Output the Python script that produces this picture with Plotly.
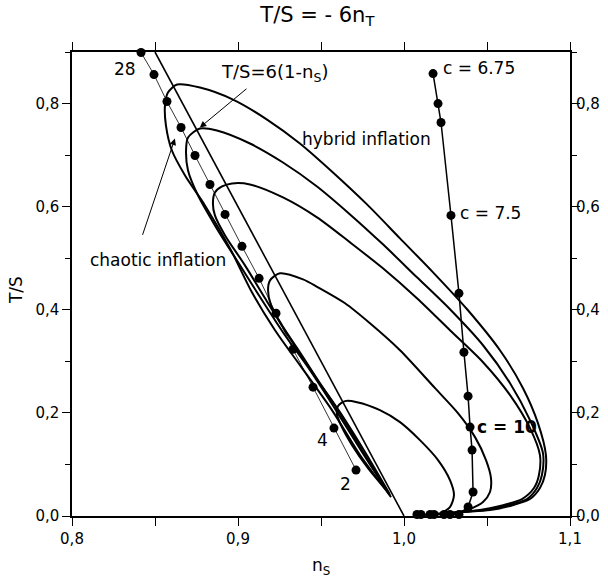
import plotly.graph_objects as go

# ---- data ----
line_ns = [0.85, 1.0]
line_ts = [0.90, 0.0]

chaotic_N = [28, 26, 24, 22, 20, 18, 16, 14, 12, 10, 8, 6, 4, 2]
chaotic_ns = [0.8416, 0.8494, 0.8572, 0.8657, 0.8741, 0.8831, 0.8922, 0.9024, 0.9127, 0.9229, 0.9331, 0.9452, 0.9578, 0.9711]
chaotic_ts = [0.8990, 0.8562, 0.8039, 0.7535, 0.6993, 0.6431, 0.5850, 0.5230, 0.4610, 0.3932, 0.3235, 0.2499, 0.1705, 0.0891]

c_ns = [1.0175, 1.0205, 1.0223, 1.0283, 1.0331, 1.0361, 1.0386, 1.0398, 1.0410, 1.0416, 1.0386,
        1.0331, 1.0277, 1.0241, 1.0181, 1.0157, 1.0102, 1.0078]
c_ts = [0.8581, 0.8000, 0.7632, 0.5830, 0.4319, 0.3177, 0.2324, 0.1724, 0.1278, 0.0465, 0.0174,
        0.003, 0.003, 0.003, 0.003, 0.003, 0.003, 0.003]

loopA_ns = [0.9922, 0.9735, 0.9566, 0.9373, 0.9223, 0.9084, 0.8952, 0.8801, 0.8681, 0.8602, 0.8566, 0.8560, 0.8578, 0.8633,
            0.8771, 0.8970, 0.9175, 0.9373, 0.9572, 0.9777, 0.9976, 1.0175, 1.0380, 1.0578, 1.0717, 1.0807, 1.0855,
            1.0849, 1.0819, 1.0759, 1.0639, 1.0518, 1.0355, 1.0217, 1.0078]
loopA_ts = [0.0368, 0.1182, 0.2053, 0.2925, 0.3603, 0.4339, 0.5191, 0.6024, 0.6605, 0.7089, 0.7574, 0.7961, 0.8213, 0.8368,
            0.8310, 0.8077, 0.7690, 0.7225, 0.6663, 0.6044, 0.5385, 0.4726, 0.4010, 0.3215, 0.2479, 0.1801, 0.1182,
            0.0794, 0.0542, 0.0329, 0.0194, 0.0116, 0.0077, 0.0039, 0.0019]

loopB_ns = [0.9910, 0.9747, 0.9590, 0.9434, 0.9283, 0.9145, 0.9012, 0.8861, 0.8759, 0.8699, 0.8687, 0.8699, 0.8771,
            0.8873, 0.9072, 0.9271, 0.9476, 0.9675, 0.9873, 1.0078, 1.0277, 1.0476, 1.0639, 1.0759, 1.0837,
            1.0831, 1.0801, 1.0741, 1.0608, 1.0488, 1.0337, 1.0169]
loopB_ts = [0.0426, 0.1240, 0.2053, 0.2828, 0.3506, 0.4184, 0.4862, 0.5637, 0.6218, 0.6702, 0.7089, 0.7341, 0.7515,
            0.7477, 0.7225, 0.6857, 0.6392, 0.5850, 0.5269, 0.4630, 0.4010, 0.3312, 0.2576, 0.1860, 0.1220,
            0.0794, 0.0542, 0.0329, 0.0194, 0.0116, 0.0077, 0.0039]

loopC_ns = [0.9916, 0.9753, 0.9602, 0.9446, 0.9301, 0.9163, 0.9042, 0.8922, 0.8861, 0.8849, 0.8861, 0.8904, 0.8964,
            0.9072, 0.9271, 0.9476, 0.9675, 0.9873, 1.0078, 1.0277, 1.0476, 1.0639, 1.0759, 1.0819,
            1.0813, 1.0783, 1.0711, 1.0578, 1.0458, 1.0337, 1.0253]
loopC_ts = [0.0407, 0.1240, 0.2053, 0.2789, 0.3506, 0.4223, 0.4862, 0.5443, 0.5831, 0.6063, 0.6276, 0.6392, 0.6450,
            0.6431, 0.6179, 0.5792, 0.5307, 0.4804, 0.4223, 0.3603, 0.2983, 0.2344, 0.1705, 0.1182,
            0.0794, 0.0542, 0.0329, 0.0194, 0.0116, 0.0077, 0.0039]

loopD_ns = [0.9910, 0.9765, 0.9614, 0.9494, 0.9373, 0.9265, 0.9199, 0.9181, 0.9193, 0.9253, 0.9392, 0.9482, 0.9645,
            0.9795, 0.9976, 1.0187, 1.0325, 1.0428, 1.0494, 1.0524, 1.0518, 1.0476, 1.0398, 1.0325]
loopD_ts = [0.0446, 0.1240, 0.2014, 0.2576, 0.3177, 0.3700, 0.4087, 0.4378, 0.4571, 0.4707, 0.4591, 0.4436, 0.4126,
            0.3738, 0.3215, 0.2479, 0.1995, 0.1530, 0.1085, 0.0736, 0.0465, 0.0271, 0.0136, 0.0077]

loopE_ns = [0.9904, 0.9783, 0.9687, 0.9620, 0.9596, 0.9602, 0.9645, 0.9717, 0.9855, 0.9976, 1.0096, 1.0205, 1.0277,
            1.0301, 1.0277, 1.0217]
loopE_ts = [0.0465, 0.0930, 0.1375, 0.1763, 0.1976, 0.2131, 0.2228, 0.2208, 0.2053, 0.1821, 0.1472, 0.1085, 0.0697,
            0.0407, 0.0174, 0.0039]

x_ticks = [0.8, 0.9, 1.0, 1.1]
x_ticktext = ["0,8", "0,9", "1,0", "1,1"]
y_ticks = [0.0, 0.2, 0.4, 0.6, 0.8]
y_ticktext = ["0,0", "0,2", "0,4", "0,6", "0,8"]

FONT = "DejaVu Sans"

fig = go.Figure()

for xs, ys in [(loopA_ns, loopA_ts), (loopB_ns, loopB_ts), (loopC_ns, loopC_ts),
               (loopD_ns, loopD_ts), (loopE_ns, loopE_ts)]:
    fig.add_trace(go.Scatter(x=xs, y=ys, mode="lines",
                             line=dict(color="black", width=2, shape="spline", smoothing=0.8),
                             hoverinfo="skip", showlegend=False))

fig.add_trace(go.Scatter(x=line_ns, y=line_ts, mode="lines", line=dict(color="black", width=1.6),
                         showlegend=False, hoverinfo="skip"))

fig.add_trace(go.Scatter(x=chaotic_ns, y=chaotic_ts, mode="lines+markers", text=chaotic_N,
                         line=dict(color="black", width=0.8),
                         marker=dict(color="black", size=9), cliponaxis=False, showlegend=False))

fig.add_trace(go.Scatter(x=c_ns, y=c_ts, mode="lines+markers",
                         line=dict(color="black", width=1.5),
                         marker=dict(color="black", size=9), cliponaxis=False, showlegend=False))

# invisible trace on the right axis
fig.add_trace(go.Scatter(x=[0.8], y=[0], yaxis="y2", mode="markers", marker=dict(opacity=0),
                         showlegend=False, hoverinfo="skip"))

AF = 17
ann = [
    dict(x=0.8319, y=0.8678, text="28", showarrow=False, font=dict(size=AF)),
    dict(x=0.9217, y=0.860, text="T/S=6(1-n<sub>S</sub>)", showarrow=False, font=dict(size=18)),
    dict(x=1.0223, y=0.8697, text="c = 6.75", showarrow=False, xanchor="left", font=dict(size=AF)),
    dict(x=0.9373, y=0.7322, text="hybrid inflation", showarrow=False, xanchor="left", font=dict(size=AF)),
    dict(x=1.0325, y=0.587, text="c = 7.5", showarrow=False, xanchor="left", font=dict(size=AF)),
    dict(x=0.8096, y=0.4959, text="chaotic inflation", showarrow=False, xanchor="left", font=dict(size=AF)),
    dict(x=1.0428, y=0.1724, text="<b>c = 10</b>", showarrow=False, xanchor="left", font=dict(size=AF)),
    dict(x=0.9506, y=0.1472, text="4", showarrow=False, font=dict(size=AF)),
    dict(x=0.9645, y=0.062, text="2", showarrow=False, font=dict(size=AF)),
    dict(x=0.8770, y=0.7535, ax=0.906, ay=0.831, axref="x", ayref="y", text="", showarrow=True,
         arrowhead=2, arrowsize=1.3, arrowwidth=1, arrowcolor="black"),
    dict(x=0.862, y=0.732, ax=0.8422, ay=0.5424, axref="x", ayref="y", text="", showarrow=True,
         arrowhead=2, arrowsize=1.3, arrowwidth=1, arrowcolor="black"),
    # axis titles
    dict(xref="paper", yref="paper", x=0, y=0.487, xshift=-56, text="T/S", textangle=-90,
         showarrow=False, xanchor="center", yanchor="middle", font=dict(size=AF)),
    dict(xref="paper", yref="paper", x=0.5, y=-0.108, text="n<sub>S</sub>",
         showarrow=False, xanchor="center", yanchor="middle", font=dict(size=AF)),
]

axis_common = dict(showline=True, linecolor="black", linewidth=1.5, showgrid=False, zeroline=False,
                   ticks="outside", ticklen=8, tickwidth=1.2, tickcolor="black", automargin=False,
                   tickfont=dict(size=15, color="black"))

fig.update_layout(
    width=608, height=581,
    margin=dict(l=72, r=38, t=52, b=65),
    paper_bgcolor="white", plot_bgcolor="white",
    font=dict(family=FONT, color="black", size=15),
    title=dict(text="T/S = - 6n<sub>T</sub>", x=0.522, xanchor="center", y=0.975, yanchor="middle",
               font=dict(size=21)),
    xaxis=dict(range=[0.8, 1.1], tickmode="array", tickvals=x_ticks, ticktext=x_ticktext, mirror="allticks",
               minor=dict(dtick=0.05, tick0=0.8, ticks="outside", ticklen=5, tickcolor="black", tickwidth=1.2),
               **axis_common),
    yaxis=dict(range=[0, 0.9], tickmode="array", tickvals=y_ticks, ticktext=y_ticktext, mirror="allticks",
               minor=dict(dtick=0.1, tick0=0, ticks="outside", ticklen=5, tickcolor="black", tickwidth=1.2),
               **axis_common),
    yaxis2=dict(range=[0, 0.9], tickmode="array", tickvals=y_ticks, ticktext=y_ticktext,
                overlaying="y", side="right", anchor="x", automargin=False,
                showline=False, showgrid=False, zeroline=False, ticks="outside", ticklen=2,
                tickcolor="rgba(0,0,0,0)", tickfont=dict(size=15, color="black")),
    annotations=ann,
)

# remove the default page margin / scrollbars so the figure sits at the window's top-left corner
fig.write_html(
    "out.html",
    config={"displayModeBar": False},
    post_script="document.body.style.margin='0px';document.body.style.overflow='hidden';"
                "document.documentElement.style.overflow='hidden';",
)
